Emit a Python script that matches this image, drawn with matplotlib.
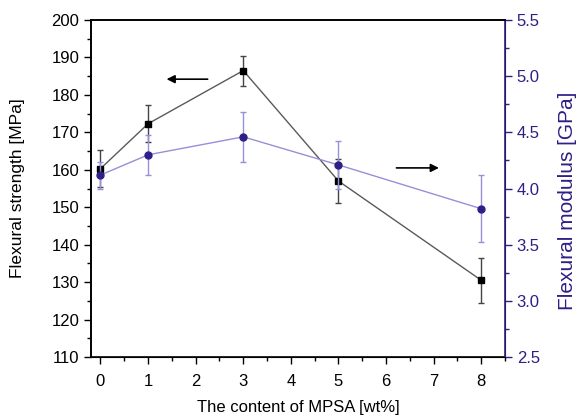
import matplotlib.pyplot as plt
from matplotlib.ticker import MultipleLocator

plt.rcParams['font.family'] = ['Liberation Sans', 'DejaVu Sans']

mpsa = [0, 1, 3, 5, 8]
strength = [160.3, 172.3, 186.5, 157.0, 130.5]
strength_err = [5.0, 5.0, 4.0, 6.0, 6.0]
modulus = [4.12, 4.30, 4.46, 4.21, 3.82]
modulus_err = [0.12, 0.18, 0.22, 0.21, 0.30]

indigo = '#2e1f86'

fig = plt.figure(figsize=(5.78, 4.17), dpi=100)
ax = fig.add_axes([0.1574, 0.1439, 0.7163, 0.8081])
ax2 = ax.twinx()

ax.errorbar(mpsa, strength, yerr=strength_err, color='#5a5a5a', lw=1,
            marker='s', ms=5, mfc='black', mec='black',
            ecolor='#444444', elinewidth=1, capsize=2.5, capthick=1, zorder=3)
ax2.errorbar(mpsa, modulus, yerr=modulus_err, color='#9690d8', lw=1,
             marker='o', ms=5, mfc=indigo, mec=indigo,
             ecolor='#9690d8', elinewidth=1, capsize=2.5, capthick=1)

ax.annotate('', xy=(1.33, 184.2), xytext=(2.31, 184.2),
            arrowprops=dict(arrowstyle='-|>', color='black', lw=1.2, mutation_scale=12))
ax.annotate('', xy=(7.17, 160.5), xytext=(6.16, 160.5),
            arrowprops=dict(arrowstyle='-|>', color='black', lw=1.2, mutation_scale=12))

ax.set_xlim(-0.2, 8.5)
ax.set_ylim(110, 200)
ax2.set_ylim(2.5, 5.5)

ax.xaxis.set_major_locator(MultipleLocator(1))
ax.xaxis.set_minor_locator(MultipleLocator(0.5))
ax.yaxis.set_major_locator(MultipleLocator(10))
ax.yaxis.set_minor_locator(MultipleLocator(5))
ax2.yaxis.set_major_locator(MultipleLocator(0.5))
ax2.yaxis.set_minor_locator(MultipleLocator(0.25))
ax2.yaxis.set_major_formatter(plt.FormatStrFormatter('%.1f'))

ax.tick_params(which='both', direction='out', labelsize=12, width=1)
ax.tick_params(which='major', length=5)
ax.tick_params(which='minor', length=3)
ax.tick_params(axis='x', pad=7)
ax.tick_params(axis='y', which='both', right=False)
ax2.tick_params(which='both', direction='out', colors=indigo, labelsize=12, width=1)
ax2.tick_params(which='major', length=5)
ax2.tick_params(which='minor', length=3)

for s in ['left', 'bottom', 'top']:
    ax.spines[s].set_linewidth(1.2)
ax2.spines['right'].set_color(indigo)
ax2.spines['right'].set_linewidth(1.2)
ax2.spines['left'].set_linewidth(1.2)
ax2.spines['top'].set_linewidth(1.2)

ax.set_xlabel('The content of MPSA [wt%]', fontsize=12, labelpad=8)
ax.set_ylabel('Flexural strength [MPa]', fontsize=12.5, labelpad=19)
ax2.set_ylabel('Flexural modulus [GPa]', fontsize=15, color=indigo, labelpad=13, y=0.463)

fig.savefig('out.png', dpi=100)
